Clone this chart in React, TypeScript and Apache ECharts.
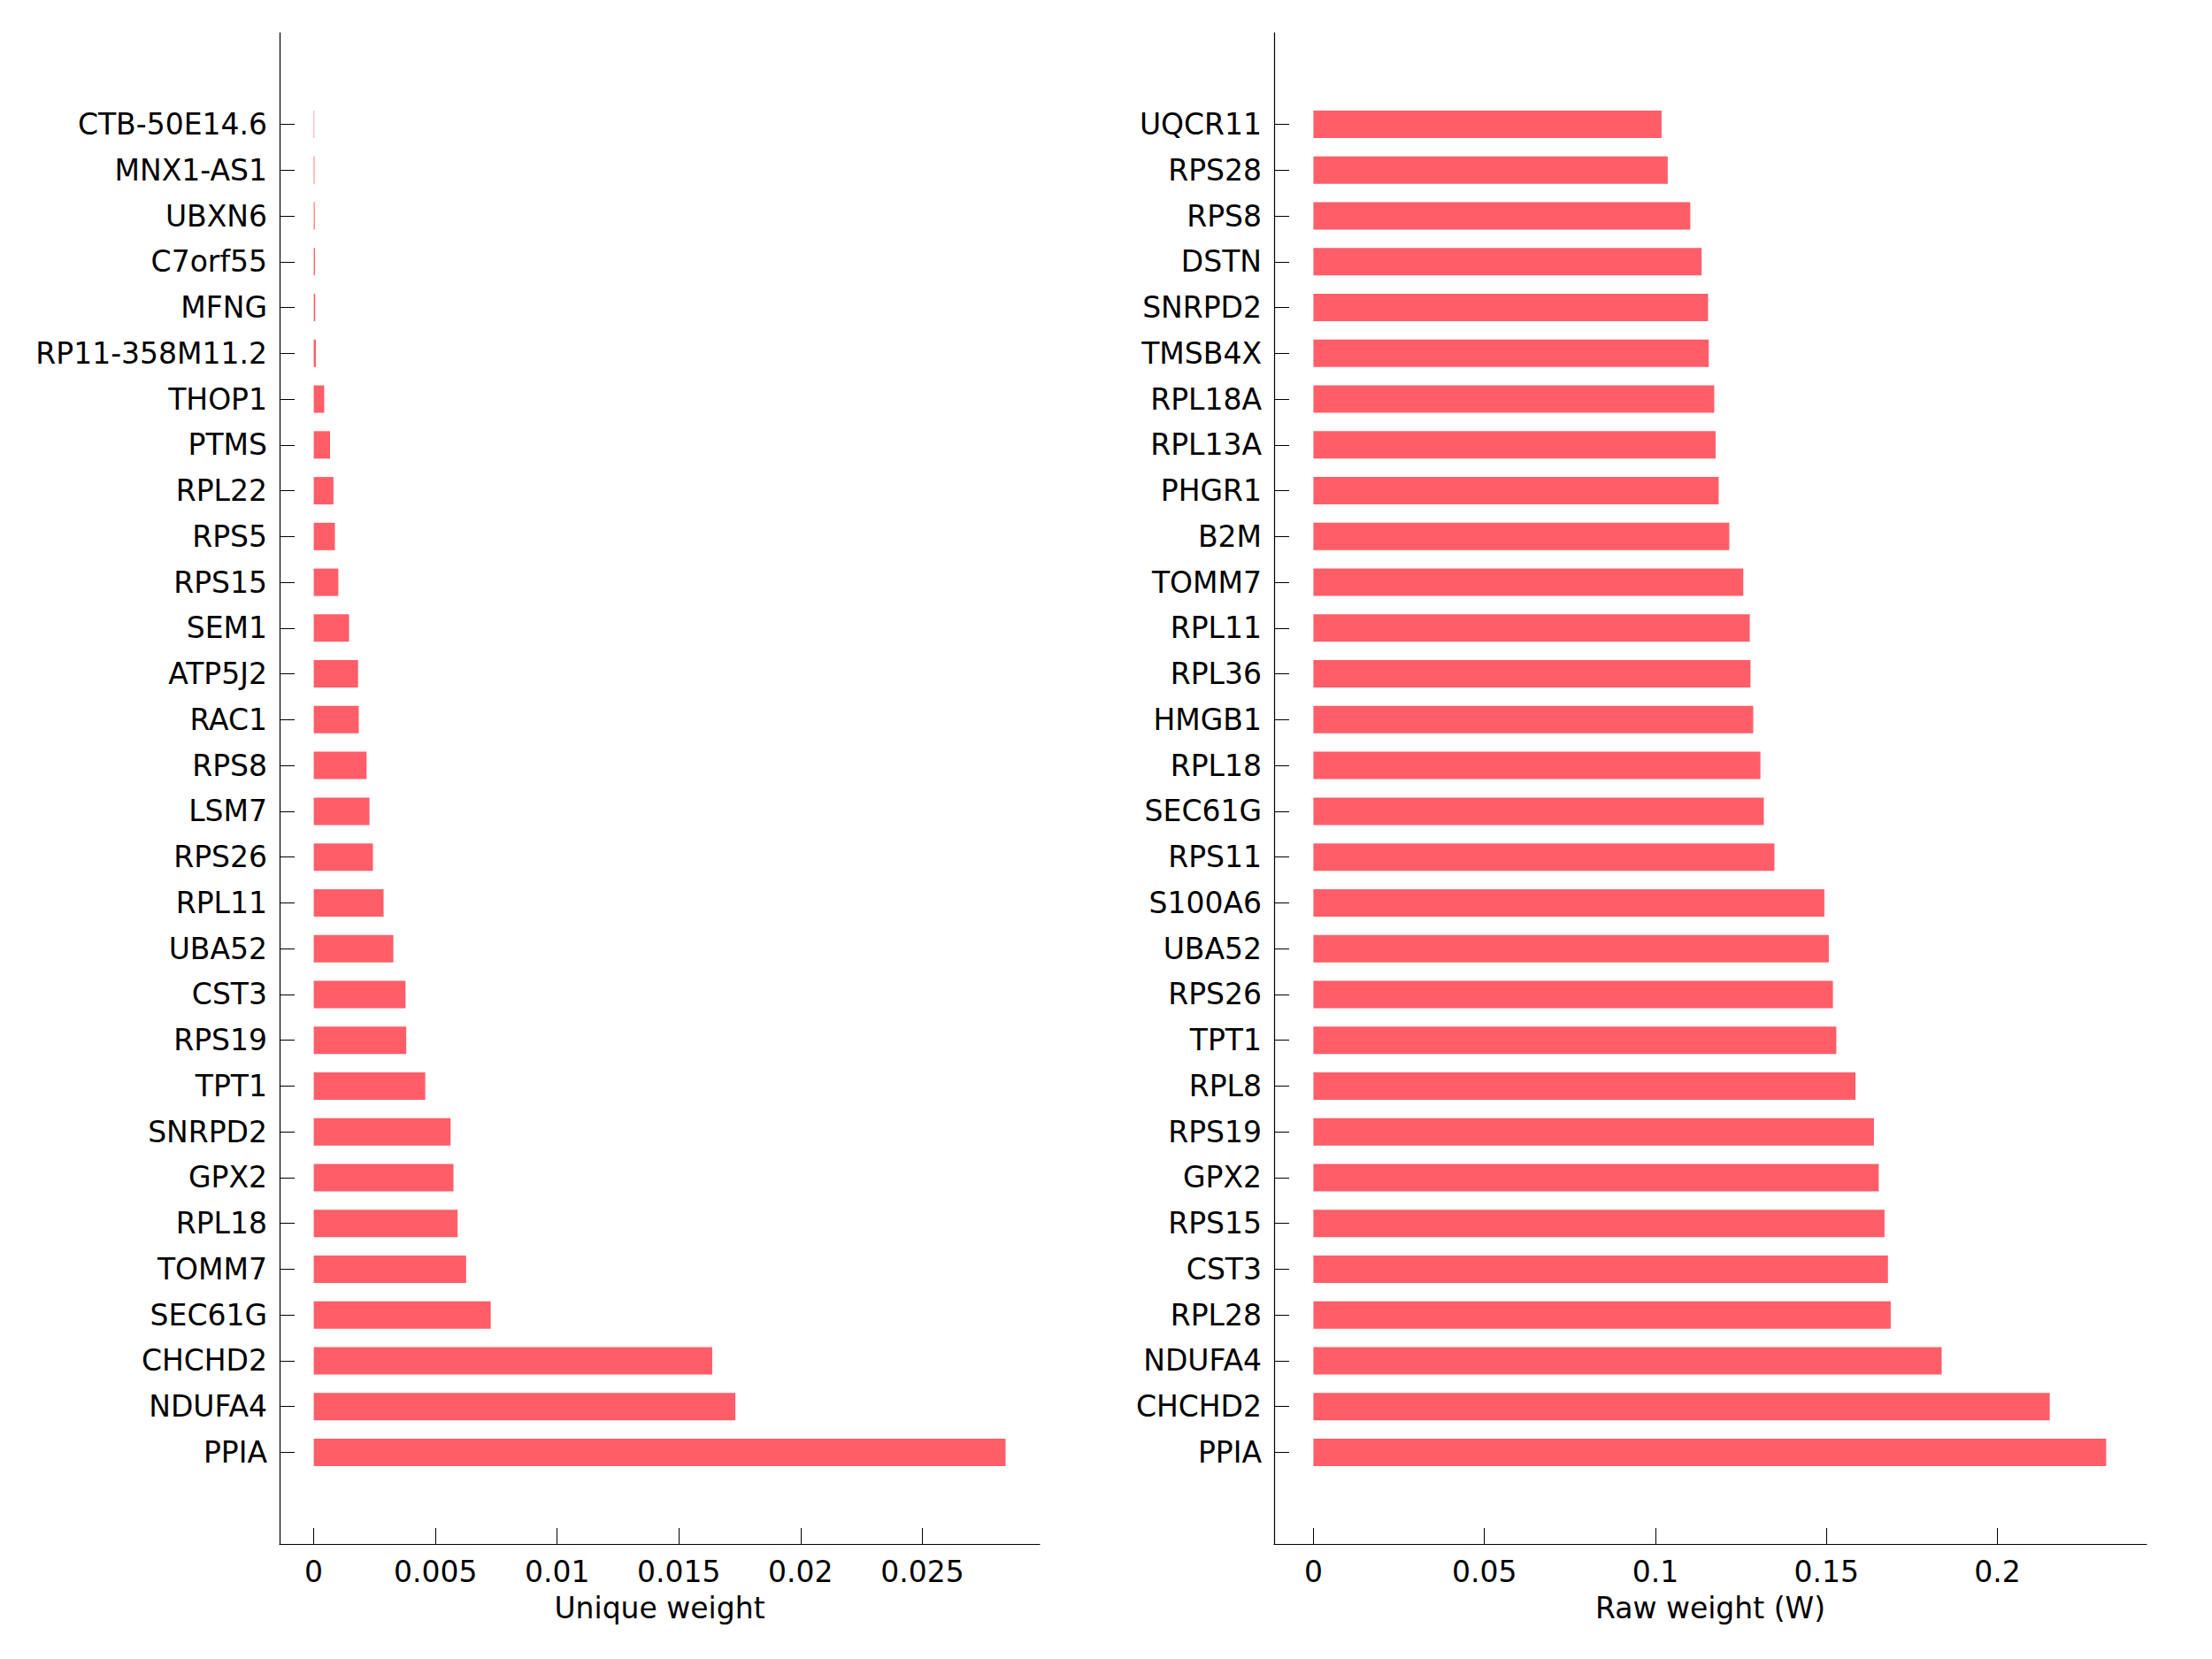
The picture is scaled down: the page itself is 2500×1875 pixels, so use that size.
import React, { useEffect, useRef } from "react";
import * as echarts from "echarts";

const leftGenes = [
  "CTB-50E14.6", "MNX1-AS1", "UBXN6", "C7orf55", "MFNG", "RP11-358M11.2", "THOP1", "PTMS",
  "RPL22", "RPS5", "RPS15", "SEM1", "ATP5J2", "RAC1", "RPS8", "LSM7", "RPS26", "RPL11",
  "UBA52", "CST3", "RPS19", "TPT1", "SNRPD2", "GPX2", "RPL18", "TOMM7", "SEC61G",
  "CHCHD2", "NDUFA4", "PPIA",
];
const leftValues = [
  0.00002, 0.00003, 0.00004, 0.00005, 0.00006, 0.00009, 0.00043, 0.00067,
  0.00081, 0.00087, 0.00101, 0.00145, 0.00182, 0.00185, 0.00217, 0.00229, 0.00243, 0.00287,
  0.00327, 0.00377, 0.0038, 0.00458, 0.00562, 0.00574, 0.00591, 0.00626, 0.00727,
  0.01637, 0.01732, 0.02842,
];
const rightGenes = [
  "UQCR11", "RPS28", "RPS8", "DSTN", "SNRPD2", "TMSB4X", "RPL18A", "RPL13A", "PHGR1",
  "B2M", "TOMM7", "RPL11", "RPL36", "HMGB1", "RPL18", "SEC61G", "RPS11", "S100A6",
  "UBA52", "RPS26", "TPT1", "RPL8", "RPS19", "GPX2", "RPS15", "CST3", "RPL28",
  "NDUFA4", "CHCHD2", "PPIA",
];
const rightValues = [
  0.1018, 0.1036, 0.1102, 0.1135, 0.1154, 0.1156, 0.1172, 0.1176, 0.1185,
  0.1216, 0.1257, 0.1276, 0.1278, 0.1286, 0.1307, 0.1317, 0.1348, 0.1494,
  0.1507, 0.1519, 0.1529, 0.1585, 0.1639, 0.1653, 0.167, 0.168, 0.1688,
  0.1837, 0.2153, 0.2318,
];
const leftTicks = [0, 0.005, 0.01, 0.015, 0.02, 0.025];
const rightTicks = [0, 0.05, 0.1, 0.15, 0.2];
const leftTitle = "Unique weight";
const rightTitle = "Raw weight (W)";

const FONT = "DejaVu Sans";
const FS = 33;
const BAR_COLOR = "#ff5e69";

const padCats = (names: string[]) => [" ", "  ", ...names, "   ", "    "];
const padVals = (vals: number[]) => [null, null, ...vals, null, null];

export default function App() {
  const ref = useRef<HTMLDivElement>(null);
  useEffect(() => {
    if (!ref.current) return;
    const chart = echarts.init(ref.current, null, { renderer: "svg" });
    const xAxisCommon = (min: number, max: number, ticks: number[], name: string, gridIndex: number) => ({
      type: "value",
      gridIndex,
      min,
      max,
      name,
      nameLocation: "middle",
      nameGap: 56,
      nameTextStyle: { fontFamily: FONT, fontSize: FS, color: "#000" },
      axisLine: { show: true, onZero: false, lineStyle: { color: "#000", width: 1.2 } },
      axisTick: { show: true, inside: true, length: 18, customValues: ticks, lineStyle: { color: "#000", width: 1 } },
      axisLabel: {
        show: true,
        customValues: ticks,
        margin: 15,
        fontFamily: FONT,
        fontSize: FS,
        color: "#000",
        formatter: (v: number) => String(parseFloat(Number(v).toFixed(4))),
      },
      splitLine: { show: false },
    });
    const yAxisCommon = (names: string[], gridIndex: number) => ({
      type: "category",
      gridIndex,
      inverse: true,
      boundaryGap: false,
      data: padCats(names),
      axisLine: { show: true, onZero: false, lineStyle: { color: "#000", width: 1.2 } },
      axisTick: {
        show: true,
        inside: true,
        length: 17,
        interval: (_i: number, v: string) => v.trim() !== "",
        lineStyle: { color: "#000", width: 1 },
      },
      axisLabel: {
        show: true,
        interval: 0,
        margin: 14,
        fontFamily: FONT,
        fontSize: FS,
        color: "#000",
      },
      splitLine: { show: false },
    });
    chart.setOption({
      animation: false,
      backgroundColor: "#fff",
      textStyle: { fontFamily: FONT },
      grid: [
        { left: 316, right: 1325, top: 37, bottom: 130, containLabel: false },
        { left: 1440, right: 74, top: 37, bottom: 130, containLabel: false },
      ],
      xAxis: [
        xAxisCommon(-0.001403, 0.02982, leftTicks, leftTitle, 0),
        xAxisCommon(-0.01149, 0.2436, rightTicks, rightTitle, 1),
      ],
      yAxis: [yAxisCommon(leftGenes, 0), yAxisCommon(rightGenes, 1)],
      series: [
        {
          type: "bar",
          xAxisIndex: 0,
          yAxisIndex: 0,
          data: padVals(leftValues),
          barWidth: 31,
          itemStyle: { color: BAR_COLOR },
        },
        {
          type: "bar",
          xAxisIndex: 1,
          yAxisIndex: 1,
          data: padVals(rightValues),
          barWidth: 31,
          itemStyle: { color: BAR_COLOR },
        },
      ],
    });
    return () => chart.dispose();
  }, []);
  return (
    <div
      ref={ref}
      style={{ position: "absolute", left: 0, top: 0, width: 2500, height: 1875, background: "#fff" }}
    />
  );
}
